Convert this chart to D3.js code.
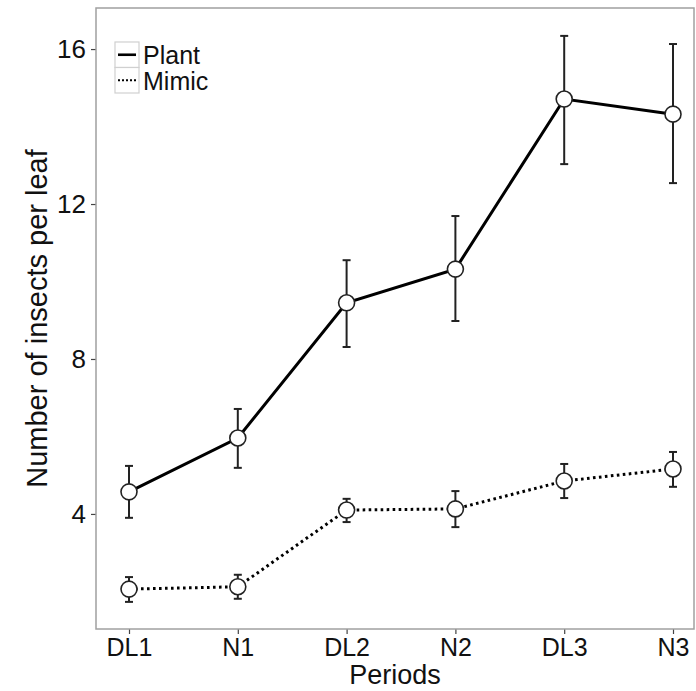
<!DOCTYPE html>
<html>
<head>
<meta charset="utf-8">
<script src="https://cdn.jsdelivr.net/npm/d3@7"></script>
<style>
	body { margin: 0; background: #fff; }
	svg { font-family: "Liberation Sans", Arial, sans-serif; }
</style>
</head>
<body>
<div id="chart"></div>
<script>
const periods = ['DL1', 'N1', 'DL2', 'N2', 'DL3', 'N3']
const yTicks = [4, 8, 12, 16]

const plantMean = [4.57, 5.96, 9.45, 10.32, 14.71, 14.32]
const plantLow = [3.90, 5.19, 8.31, 8.98, 13.03, 12.54]
const plantHigh = [5.24, 6.71, 10.55, 11.69, 16.34, 16.13]

const mimicMean = [2.06, 2.12, 4.10, 4.13, 4.85, 5.16]
const mimicLow = [1.73, 1.81, 3.79, 3.66, 4.41, 4.70]
const mimicHigh = [2.37, 2.43, 4.39, 4.59, 5.29, 5.60]

const series = [
	{name: 'Plant', mean: plantMean, low: plantLow, high: plantHigh, dash: null},
	{name: 'Mimic', mean: mimicMean, low: mimicLow, high: mimicHigh, dash: '2.6,3.4'}
]

const W = 696, H = 691
const panel = {left: 96, right: 694, top: 8, bottom: 629}

const svg = d3.select('#chart').append('svg')
	.attr('width', W).attr('height', H)

const x = d3.scalePoint()
	.domain(periods)
	.range([129, 673])

const y = d3.scaleLinear()
	.domain([1.03, 17.06])
	.range([panel.bottom, panel.top])

// axes
const xAxis = svg.append('g')
	.attr('transform', `translate(0,${panel.bottom})`)
	.call(d3.axisBottom(x).tickSize(5).tickPadding(4))
xAxis.select('.domain').remove()
xAxis.selectAll('line').attr('stroke', '#444').attr('stroke-width', 1.2)
xAxis.selectAll('text').attr('font-size', 25).attr('fill', '#111').attr('font-family', null)

const yAxis = svg.append('g')
	.attr('transform', `translate(${panel.left},0)`)
	.call(d3.axisLeft(y).tickValues(yTicks).tickSize(5).tickPadding(5))
yAxis.select('.domain').remove()
yAxis.selectAll('line').attr('stroke', '#444').attr('stroke-width', 1.2)
yAxis.selectAll('text').attr('font-size', 26).attr('fill', '#111').attr('font-family', null)

// panel border
svg.append('rect')
	.attr('x', panel.left).attr('y', panel.top)
	.attr('width', panel.right - panel.left).attr('height', panel.bottom - panel.top)
	.attr('fill', 'none').attr('stroke', '#a0a0a0').attr('stroke-width', 1.5)

// titles
svg.append('text')
	.attr('x', (panel.left + panel.right) / 2).attr('y', 684)
	.attr('text-anchor', 'middle').attr('font-size', 27).attr('fill', '#111')
	.text('Periods')

svg.append('text')
	.attr('transform', `translate(47,${(panel.top + panel.bottom) / 2}) rotate(-90)`)
	.attr('text-anchor', 'middle').attr('font-size', 29).attr('fill', '#111')
	.text('Number of insects per leaf')

// series
const line = d3.line()
	.x((d, i) => x(periods[i]))
	.y(d => y(d))

series.forEach(s => {
	const g = svg.append('g')

	const bars = g.selectAll('.err').data(periods).enter().append('g').attr('class', 'err')
	bars.append('line')
		.attr('x1', d => x(d)).attr('x2', d => x(d))
		.attr('y1', (d, i) => y(s.low[i])).attr('y2', (d, i) => y(s.high[i]))
		.attr('stroke', '#222').attr('stroke-width', 2)
	bars.append('line')
		.attr('x1', d => x(d) - 4).attr('x2', d => x(d) + 4)
		.attr('y1', (d, i) => y(s.low[i])).attr('y2', (d, i) => y(s.low[i]))
		.attr('stroke', '#222').attr('stroke-width', 2)
	bars.append('line')
		.attr('x1', d => x(d) - 4).attr('x2', d => x(d) + 4)
		.attr('y1', (d, i) => y(s.high[i])).attr('y2', (d, i) => y(s.high[i]))
		.attr('stroke', '#222').attr('stroke-width', 2)

	g.append('path')
		.attr('d', line(s.mean))
		.attr('fill', 'none').attr('stroke', '#000').attr('stroke-width', 3)
		.attr('stroke-dasharray', s.dash)

	g.selectAll('circle').data(s.mean).enter().append('circle')
		.attr('cx', (d, i) => x(periods[i])).attr('cy', d => y(d))
		.attr('r', 8)
		.attr('fill', '#fff').attr('stroke', '#222').attr('stroke-width', 1.6)
})

// legend
const legend = svg.append('g').attr('transform', 'translate(115,42)')
series.forEach((s, i) => {
	const row = legend.append('g').attr('transform', `translate(0,${i * 25.5})`)
	row.append('rect')
		.attr('width', 24).attr('height', 25.5)
		.attr('fill', '#fff').attr('stroke', '#d0d0d0').attr('stroke-width', 1.2)
	row.append('line')
		.attr('x1', 3).attr('x2', 21).attr('y1', 12.75).attr('y2', 12.75)
		.attr('stroke', '#000').attr('stroke-width', s.dash ? 2 : 2.6)
		.attr('stroke-dasharray', s.dash ? '2,2' : null)
	row.append('text')
		.attr('x', 28).attr('y', 22)
		.attr('font-size', 25).attr('fill', '#111')
		.text(s.name)
})
</script>
</body>
</html>
